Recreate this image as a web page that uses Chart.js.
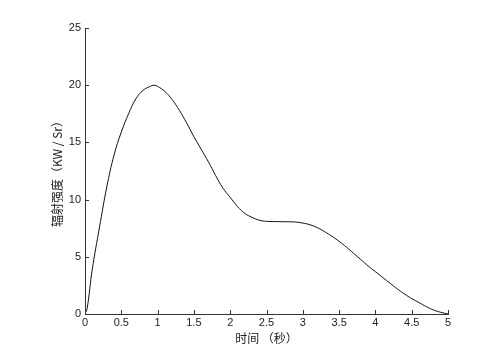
<!DOCTYPE html>
<html>
<head>
<meta charset="utf-8">
<script src="https://cdn.jsdelivr.net/npm/chart.js@4"></script>
<style>
  html, body { margin: 0; padding: 0; background: #fff; }
  #wrap { width: 499px; height: 351px; }
</style>
</head>
<body>
<div id="wrap"><canvas id="c" width="499" height="351"></canvas></div>
<script>
// time (s) and radiant intensity (KW/Sr)
const timeVals = [0, 0.03, 0.1, 0.2, 0.3, 0.4, 0.5, 0.6, 0.7, 0.8, 0.9, 0.95, 1.0, 1.1, 1.2, 1.3, 1.4, 1.5, 1.6, 1.7, 1.8, 1.9,
  2.0, 2.1, 2.2, 2.3, 2.4, 2.5, 2.6, 2.7, 2.8, 2.9, 3.0, 3.1, 3.2, 3.3, 3.4, 3.5, 3.6, 3.7, 3.8, 3.9,
  4.0, 4.1, 4.2, 4.3, 4.4, 4.5, 4.6, 4.7, 4.8, 4.9, 5.0];
const intensity = [0, 0.5, 3.9, 7.6, 11.1, 13.9, 15.9, 17.5, 18.8, 19.55, 19.9, 20.0, 19.9, 19.45, 18.75, 17.8, 16.7, 15.5, 14.4, 13.3, 12.1, 11.0,
  10.2, 9.4, 8.8, 8.45, 8.2, 8.1, 8.08, 8.07, 8.06, 8.04, 7.95, 7.8, 7.55, 7.2, 6.8, 6.35, 5.85, 5.3, 4.75, 4.2,
  3.7, 3.2, 2.7, 2.2, 1.75, 1.35, 1.0, 0.65, 0.35, 0.15, 0];

const xTicks = [0, 0.5, 1, 1.5, 2, 2.5, 3, 3.5, 4, 4.5, 5];
const xTickLabels = ['0', '0.5', '1', '1.5', '2', '2.5', '3', '3.5', '4', '4.5', '5'];
const yTicks = [0, 5, 10, 15, 20, 25];
const yTickLabels = ['0', '5', '10', '15', '20', '25'];

const axisColor = '#333';
const tickFont = { family: 'Liberation Sans, Arial, sans-serif', size: 11 };

// inward tick marks, MATLAB style
const innerTicks = {
  id: 'innerTicks',
  afterDraw(chart) {
    const { ctx, scales: { x, y }, chartArea } = chart;
    ctx.save();
    ctx.strokeStyle = axisColor;
    ctx.lineWidth = 1;
    ctx.beginPath();
    x.ticks.forEach(t => {
      const px = Math.round(x.getPixelForValue(t.value)) + 0.5;
      ctx.moveTo(px, chartArea.bottom);
      ctx.lineTo(px, chartArea.bottom - 4);
    });
    y.ticks.forEach(t => {
      const py = Math.round(y.getPixelForValue(t.value)) + 0.5;
      ctx.moveTo(chartArea.left, py);
      ctx.lineTo(chartArea.left + 4, py);
    });
    ctx.stroke();
    ctx.restore();
  }
};

new Chart(document.getElementById('c'), {
  type: 'line',
  data: {
    datasets: [{
      data: timeVals.map((t, i) => ({ x: t, y: intensity[i] })),
      borderColor: '#111',
      borderWidth: 1,
      pointRadius: 0,
      fill: false,
      tension: 0.4
    }]
  },
  options: {
    responsive: false,
    animation: false,
    layout: { padding: { left: 0, right: 51, top: 28, bottom: 0 } },
    plugins: { legend: { display: false }, tooltip: { enabled: false } },
    scales: {
      x: {
        type: 'linear',
        min: 0, max: 5,
        afterBuildTicks: s => { s.ticks = xTicks.map(v => ({ value: v })); },
        afterFit: s => { s.height = 37; },
        grid: { display: true, drawOnChartArea: false, drawTicks: false, color: axisColor },
        border: { display: true, color: axisColor, width: 1 },
        ticks: {
          padding: 2, color: '#222', font: tickFont, maxRotation: 0, autoSkip: false,
          callback: v => xTickLabels[xTicks.indexOf(v)]
        },
        title: {
          display: true, text: '时间 （秒）', color: '#222',
          font: { family: 'Noto Sans CJK SC, sans-serif', size: 12 },
          padding: { top: 0, bottom: 5 }
        }
      },
      y: {
        type: 'linear',
        min: 0, max: 25,
        afterBuildTicks: s => { s.ticks = yTicks.map(v => ({ value: v })); },
        afterFit: s => { s.width = 85; },
        grid: { display: true, drawOnChartArea: false, drawTicks: false, color: axisColor },
        border: { display: true, color: axisColor, width: 1 },
        ticks: {
          padding: 4, color: '#222', font: tickFont,
          callback: v => yTickLabels[yTicks.indexOf(v)]
        },
        title: {
          display: true, text: '辐射强度（KW / Sr）', color: '#222',
          font: { family: 'Noto Sans CJK SC, sans-serif', size: 12 },
          padding: { top: 50, bottom: 0 }
        }
      }
    }
  },
  plugins: [innerTicks]
});
</script>
</body>
</html>
